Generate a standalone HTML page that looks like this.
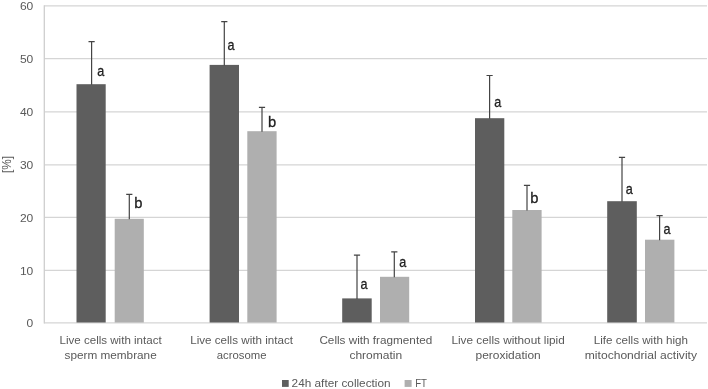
<!DOCTYPE html>
<html lang="en"><head><meta charset="utf-8"><title>Sperm quality chart</title>
<style>html,body{margin:0;padding:0;background:#fff}body{width:708px;height:389px;overflow:hidden}svg{display:block;filter:grayscale(1)}text{font-family:"Liberation Sans",sans-serif}</style></head><body>
<svg width="708" height="389" viewBox="0 0 708 389">
<rect width="708" height="389" fill="#fff"/>
<g stroke="#d5d5d5" stroke-width="1.25" fill="none">
<line x1="44.3" y1="5.90" x2="707.0" y2="5.90"/>
<line x1="44.3" y1="58.50" x2="707.0" y2="58.50"/>
<line x1="44.3" y1="111.80" x2="707.0" y2="111.80"/>
<line x1="44.3" y1="164.80" x2="707.0" y2="164.80"/>
<line x1="44.3" y1="217.30" x2="707.0" y2="217.30"/>
<line x1="44.3" y1="270.40" x2="707.0" y2="270.40"/>
<line x1="44.3" y1="322.90" x2="707.0" y2="322.90"/>
<line x1="44.3" y1="5.30" x2="44.3" y2="323.50" stroke="#cccccc"/>
</g>
<rect x="76.5" y="84.2" width="29.2" height="238.30" fill="#5e5e5e"/>
<rect x="114.7" y="218.8" width="29.1" height="103.70" fill="#afafaf"/>
<rect x="209.6" y="64.9" width="29.4" height="257.60" fill="#5e5e5e"/>
<rect x="247.3" y="131.2" width="29.3" height="191.30" fill="#afafaf"/>
<rect x="342.2" y="298.4" width="29.5" height="24.10" fill="#5e5e5e"/>
<rect x="380.0" y="276.8" width="29.2" height="45.70" fill="#afafaf"/>
<rect x="475.0" y="118.2" width="29.3" height="204.30" fill="#5e5e5e"/>
<rect x="512.3" y="210.0" width="29.3" height="112.50" fill="#afafaf"/>
<rect x="607.2" y="201.2" width="29.6" height="121.30" fill="#5e5e5e"/>
<rect x="645.0" y="239.7" width="29.4" height="82.80" fill="#afafaf"/>
<g stroke="#444444" stroke-width="1.2" fill="none">
<path d="M91.6 84.7V41.6M88.5 41.6H94.7"/>
<path d="M129.3 219.3V194.3M126.2 194.3H132.4"/>
<path d="M224.3 65.4V21.7M221.2 21.7H227.4"/>
<path d="M262.0 131.7V107.4M258.9 107.4H265.1"/>
<path d="M357.0 298.9V255.2M353.9 255.2H360.1"/>
<path d="M394.3 277.3V251.9M391.2 251.9H397.4"/>
<path d="M489.6 118.7V75.5M486.5 75.5H492.7"/>
<path d="M527.0 210.5V185.4M523.9 185.4H530.1"/>
<path d="M622.0 201.7V157.4M618.9 157.4H625.1"/>
<path d="M659.6 240.2V215.7M656.5 215.7H662.7"/>
</g>
<g fill="#595959" font-size="11.6" text-anchor="end">
<text x="33.3" y="10.4" textLength="13.4" lengthAdjust="spacingAndGlyphs">60</text>
<text x="33.3" y="63.0" textLength="13.4" lengthAdjust="spacingAndGlyphs">50</text>
<text x="33.3" y="116.2" textLength="13.4" lengthAdjust="spacingAndGlyphs">40</text>
<text x="33.3" y="169.2" textLength="13.4" lengthAdjust="spacingAndGlyphs">30</text>
<text x="33.3" y="221.8" textLength="13.4" lengthAdjust="spacingAndGlyphs">20</text>
<text x="33.3" y="274.8" textLength="13.4" lengthAdjust="spacingAndGlyphs">10</text>
<text x="33.3" y="327.3" textLength="6.7" lengthAdjust="spacingAndGlyphs">0</text>
</g>
<text transform="translate(10.8 164.5) rotate(-90)" text-anchor="middle" fill="#595959" font-size="13" textLength="17.1" lengthAdjust="spacingAndGlyphs">[%]</text>
<g fill="#202020" stroke="#202020" stroke-width="0.3" font-size="15.0">
<text x="97.3" y="75.7" textLength="7.0" lengthAdjust="spacingAndGlyphs">a</text>
<text x="134.2" y="208.2" textLength="8.2" lengthAdjust="spacingAndGlyphs">b</text>
<text x="227.4" y="49.9" textLength="7.0" lengthAdjust="spacingAndGlyphs">a</text>
<text x="268.1" y="127.0" textLength="8.2" lengthAdjust="spacingAndGlyphs">b</text>
<text x="360.4" y="288.9" textLength="7.0" lengthAdjust="spacingAndGlyphs">a</text>
<text x="399.2" y="267.0" textLength="7.0" lengthAdjust="spacingAndGlyphs">a</text>
<text x="494.2" y="106.9" textLength="7.0" lengthAdjust="spacingAndGlyphs">a</text>
<text x="530.3" y="202.7" textLength="8.2" lengthAdjust="spacingAndGlyphs">b</text>
<text x="625.7" y="194.2" textLength="7.0" lengthAdjust="spacingAndGlyphs">a</text>
<text x="663.5" y="233.9" textLength="7.0" lengthAdjust="spacingAndGlyphs">a</text>
</g>
<g fill="#595959" font-size="11.3" text-anchor="middle">
<text x="110.6" y="343.8" textLength="102.2" lengthAdjust="spacingAndGlyphs">Live cells with intact</text>
<text x="110.6" y="358.7" textLength="92.2" lengthAdjust="spacingAndGlyphs">sperm membrane</text>
<text x="241.6" y="343.8" textLength="102.8" lengthAdjust="spacingAndGlyphs">Live cells with intact</text>
<text x="241.6" y="358.7" textLength="49.7" lengthAdjust="spacingAndGlyphs">acrosome</text>
<text x="375.8" y="343.8" textLength="112.8" lengthAdjust="spacingAndGlyphs">Cells with fragmented</text>
<text x="375.8" y="358.7" textLength="52.8" lengthAdjust="spacingAndGlyphs">chromatin</text>
<text x="508.1" y="343.8" textLength="113.3" lengthAdjust="spacingAndGlyphs">Live cells without lipid</text>
<text x="508.1" y="358.7" textLength="65.2" lengthAdjust="spacingAndGlyphs">peroxidation</text>
<text x="640.9" y="343.8" textLength="94.3" lengthAdjust="spacingAndGlyphs">Life cells with high</text>
<text x="640.9" y="358.7" textLength="112.2" lengthAdjust="spacingAndGlyphs">mitochondrial activity</text>
</g>
<rect x="282" y="380" width="6.7" height="6.9" fill="#5e5e5e"/>
<rect x="404.6" y="380" width="7" height="6.9" fill="#afafaf"/>
<g fill="#595959" font-size="11.3">
<text x="291.6" y="387.2" textLength="99" lengthAdjust="spacingAndGlyphs">24h after collection</text>
<text x="415.2" y="387.2" textLength="11.8" lengthAdjust="spacingAndGlyphs">FT</text>
</g>
</svg></body></html>
